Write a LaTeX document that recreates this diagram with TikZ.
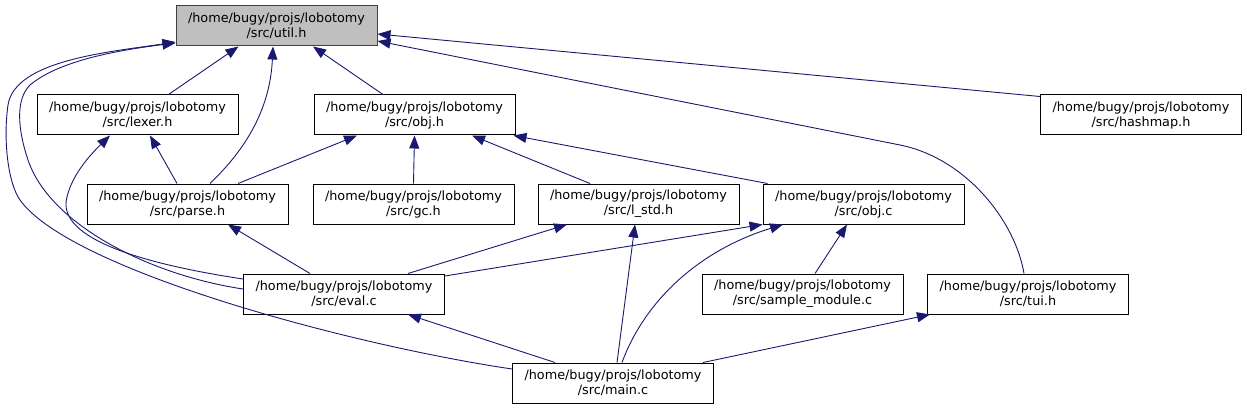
\documentclass[tikz,border=0pt]{standalone}
\usepackage{fontspec}
\setmainfont{DejaVu Sans}
\usetikzlibrary{arrows.meta}

\definecolor{edgeblue}{HTML}{191970}
\definecolor{rootfill}{HTML}{BFBFBF}
\definecolor{rootdraw}{HTML}{404040}

\begin{document}
\begin{tikzpicture}[x=1pt, y=-1pt,
    every node/.style={font=\fontsize{12.8}{15}\selectfont},
    file/.style={draw=black, line width=1pt, fill=white,
        minimum width=201pt, minimum height=40pt, inner sep=0pt, align=center},
    root/.style={file, draw=rootdraw, fill=rootfill},
    dep/.style={draw=edgeblue, line width=0.9pt,
        -{Triangle[length=13pt,width=10pt]}}]

\useasboundingbox (0,0) rectangle (1247,409);

% =============================================================================
% Files
% =============================================================================
\node[root] (util)    at (276.5,26)  {/home/bugy/projs/lobotomy\\/src/util.h};

\node[file] (lexer)   at (137.5,115) {/home/bugy/projs/lobotomy\\/src/lexer.h};
\node[file] (objh)    at (414.5,115) {/home/bugy/projs/lobotomy\\/src/obj.h};
\node[file] (hashmap) at (1141,115)  {/home/bugy/projs/lobotomy\\/src/hashmap.h};

\node[file] (parse)   at (187.5,204) {/home/bugy/projs/lobotomy\\/src/parse.h};
\node[file] (gc)      at (413.5,204) {/home/bugy/projs/lobotomy\\/src/gc.h};
\node[file] (lstd)    at (638.5,204) {/home/bugy/projs/lobotomy\\/src/l\_std.h};
\node[file] (objc)    at (863.5,204) {/home/bugy/projs/lobotomy\\/src/obj.c};

\node[file] (eval)    at (344,294)   {/home/bugy/projs/lobotomy\\/src/eval.c};
\node[file] (sample)  at (802.5,294) {/home/bugy/projs/lobotomy\\/src/sample\_module.c};
\node[file] (tui)     at (1028,294)  {/home/bugy/projs/lobotomy\\/src/tui.h};

\node[file] (main)    at (613,383)   {/home/bugy/projs/lobotomy\\/src/main.c};

% =============================================================================
% Includes of util.h
% =============================================================================
\draw[dep] ([xshift=31pt]lexer.north) -- ([xshift=-38pt]util.south);
\draw[dep] ([xshift=22.5pt]parse.north)
    .. controls (245,150) and (270,110) .. ([xshift=-3.5pt]util.south);
\draw[dep] ([xshift=-31.5pt]objh.north) -- ([xshift=36.5pt]util.south);
\draw[dep] ([yshift=-2pt]hashmap.north west) -- ([yshift=-8pt]util.east);
\draw[dep] ([xshift=-4pt]tui.north)
    .. controls (1015,220) and (965,158) .. (900,145)
    -- ([yshift=-15pt]util.east);
\draw[dep] ([yshift=5pt]eval.west)
    .. controls (150,275) and (50,225) .. (28,160)
    .. controls (18,130) and (15,100) .. (30,85)
    .. controls (60,60) and (120,50) .. ([yshift=-17pt]util.west);
\draw[dep] ([yshift=14pt]main.west)
    .. controls (350,345) and (70,270) .. (20,200)
    .. controls (8,183) and (3,140) .. (8,105)
    .. controls (15,60) and (110,52) .. ([yshift=-16pt]util.west);

% =============================================================================
% Includes of lexer.h and obj.h
% =============================================================================
\draw[dep] ([yshift=15pt]eval.west)
    .. controls (150,265) and (55,240) .. (67,197)
    .. controls (72,175) and (90,155) .. ([xshift=-27.5pt]lexer.south);
\draw[dep] ([xshift=-10.5pt]parse.north) -- ([xshift=12.5pt]lexer.south);
\draw[dep] ([xshift=50.5pt]parse.north) -- ([xshift=-57.5pt]objh.south);
\draw[dep] (gc.north) -- (objh.south);
\draw[dep] ([xshift=-48.5pt]lstd.north) -- ([xshift=57.5pt]objh.south);
\draw[dep] ([xshift=5pt]objc.north west) -- ([xshift=-2pt]objh.south east);

% =============================================================================
% Lower rows
% =============================================================================
\draw[dep] ([xshift=-34pt]eval.north) -- ([xshift=40.5pt]parse.south);
\draw[dep] ([xshift=64pt]eval.north) -- ([xshift=-71.5pt]lstd.south);
\draw[dep] ([xshift=4pt]main.north) -- ([xshift=-3.5pt]lstd.south);
\draw[dep] ([yshift=18pt]eval.east) -- (objc.south west);
\draw[dep] ([xshift=9pt]main.north)
    .. controls (645,300) and (700,250) .. ([xshift=-80.5pt]objc.south);
\draw[dep] ([xshift=12.5pt]sample.north) -- ([xshift=-16.5pt]objc.south);
\draw[dep] ([xshift=-58pt]main.north) -- ([xshift=64pt]eval.south);
\draw[dep] ([xshift=90pt]main.north) -- ([xshift=-98pt]tui.south);

\end{tikzpicture}
\end{document}
